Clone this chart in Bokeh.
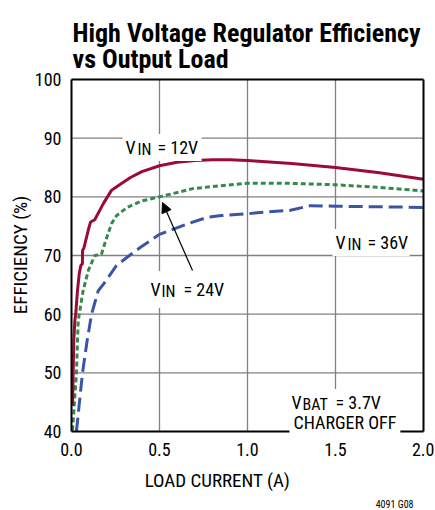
from bokeh.plotting import figure
from bokeh.models import (Range1d, FixedTicker, Label, Arrow, NormalHead,
                          ColumnDataSource, NumeralTickFormatter)
from bokeh.embed import file_html
from bokeh.resources import INLINE

# ---------------- data ----------------
x_ticks = [0.0, 0.5, 1.0, 1.5, 2.0]
y_ticks = [40, 50, 60, 70, 80, 90, 100]

x_12v = [0.006, 0.013, 0.019, 0.024, 0.034, 0.044, 0.053, 0.062, 0.063, 0.07,
         0.095, 0.108, 0.132, 0.18, 0.227, 0.25, 0.335, 0.4, 0.5, 0.6, 0.7,
         0.8, 0.9, 1.0, 1.25, 1.5, 1.75, 2.0]
y_12v = [44.4, 55.5, 58.9, 60.0, 64.0, 66.9, 68.3, 68.6, 70.9, 71.2,
         74.3, 75.7, 76.1, 78.8, 81.1, 81.6, 83.3, 84.3, 85.3, 85.9, 86.2,
         86.3, 86.3, 86.2, 85.7, 85.0, 84.1, 83.0]

x_24v = [0.006, 0.028, 0.038, 0.044, 0.066, 0.095, 0.132, 0.17, 0.195, 0.227,
         0.256, 0.316, 0.4, 0.5, 0.69, 0.85, 1.0, 1.25, 1.5, 1.75, 2.0]
y_24v = [40.2, 50.0, 58.9, 60.0, 64.0, 67.4, 70.0, 70.2, 72.6, 75.4,
         76.8, 78.2, 79.3, 80.0, 81.4, 81.9, 82.3, 82.3, 82.05, 81.6, 81.0]

x_36v = [0.028, 0.0625, 0.089, 0.108, 0.114, 0.152, 0.184, 0.256, 0.316, 0.392,
         0.5, 0.58, 0.66, 0.77, 0.85, 1.0, 1.055, 1.244, 1.358, 1.5, 1.75, 2.0]
y_36v = [40.0, 50.0, 55.5, 58.9, 60.0, 64.0, 65.2, 68.3, 69.7, 71.4,
         73.6, 74.5, 75.4, 76.5, 76.8, 77.1, 77.3, 77.7, 78.5, 78.4, 78.3, 78.2]

title_lines = ["High Voltage Regulator Efficiency", "vs Output Load"]
x_label = "LOAD CURRENT (A)"
y_label = "EFFICIENCY (%)"
footer = "4091 G08"

FONT = "Roboto Condensed"
RED = "#9b0b38"
GREEN = "#35894b"
BLUE = "#3b55a6"
GRID = "#808080"

W, H = 434, 509          # canvas starts at the page's top-left corner

# picture pixel -> data helpers (plot box: x 71..423, y 79..431)
def X(px):
    return (px - 71) / 176.0

def Y(py):
    return 100 - (py - 79) * 60.0 / 352.0

x0, x1 = x_ticks[0], x_ticks[-1]
y0, y1 = y_ticks[0], y_ticks[-1]

# the frame fills the whole canvas; the chart box is drawn inside it
p = figure(width=W, height=H, output_backend="svg", toolbar_location=None,
           x_range=Range1d(X(0), X(W)), y_range=Range1d(Y(H), Y(0)),
           min_border=0, min_border_left=0, min_border_right=0,
           min_border_top=0, min_border_bottom=0)
p.background_fill_color = "white"
p.border_fill_color = "white"
p.outline_line_color = None
p.xgrid.visible = False
p.ygrid.visible = False

p.xaxis.ticker = FixedTicker(ticks=x_ticks)
p.yaxis.ticker = FixedTicker(ticks=y_ticks)
p.xaxis.formatter = NumeralTickFormatter(format="0.0")
p.xaxis.fixed_location = y0
p.yaxis.fixed_location = x0
for ax in (p.xaxis, p.yaxis):
    ax.axis_line_color = None
    ax.major_tick_line_color = None
    ax.minor_tick_line_color = None
    ax.major_tick_out = 0
    ax.major_tick_in = 0
    ax.major_label_text_font = FONT
    ax.major_label_text_font_size = "18px"
    ax.major_label_text_color = "black"
    ax.axis_label_text_font = FONT
    ax.axis_label_text_font_size = "19px"
    ax.axis_label_text_font_style = "normal"
    ax.axis_label_text_color = "black"
p.xaxis.axis_label = x_label
p.yaxis.axis_label = y_label
p.xaxis.major_label_standoff = 11
p.yaxis.major_label_standoff = 10
p.xaxis.axis_label_standoff = 10
p.yaxis.axis_label_standoff = 0

# grid lines (inner ticks only)
gx = x_ticks[1:-1]
gy = y_ticks[1:-1]
p.segment(x0=gx, y0=[y0] * len(gx), x1=gx, y1=[y1] * len(gx),
          line_color=GRID, line_width=1.3)
p.segment(x0=[x0] * len(gy), y0=gy, x1=[x1] * len(gy), y1=gy,
          line_color=GRID, line_width=1.3)

s12 = ColumnDataSource(dict(x=x_12v, y=y_12v))
s24 = ColumnDataSource(dict(x=x_24v, y=y_24v))
s36 = ColumnDataSource(dict(x=x_36v, y=y_36v))
p.line("x", "y", source=s36, line_color=BLUE, line_width=3, line_dash="14 6")
p.line("x", "y", source=s24, line_color=GREEN, line_width=3, line_dash="5 3")
p.line("x", "y", source=s12, line_color=RED, line_width=3)

# chart box
p.segment(x0=[x0, x1, x0, x0], y0=[y0, y0, y0, y1],
          x1=[x0, x1, x1, x1], y1=[y1, y1, y0, y1],
          line_color="black", line_width=2)


def lab(text, px, py, size="18px", box=None, style="normal", align="left"):
    if box is not None:
        l, r, v = box
        px = px - l
    kw = dict(x=X(px), y=Y(py), text=text, text_font=FONT,
              text_font_size=size, text_font_style=style, text_color="black",
              text_align=align, text_baseline="alphabetic")
    if box is not None:
        kw.update(background_fill_color="white",
                  padding=dict(left=l, right=r, top=v, bottom=v))
    p.add_layout(Label(**kw))

# title
lab(title_lines[0], 72, 32, size="26px", style="bold")
lab(title_lines[1], 72, 58, size="26px", style="bold")

# VIN = 12V  (white box drawn by the first piece)
lab("V", 125, 147, box=(3, 66, 3))
lab("IN", 137, 149, size="16px")
lab("= 12V", 157, 147)

# VIN = 24V
lab("V", 150, 289, box=(3, 64, 8))
lab("IN", 161, 291, size="16px")
lab("= 24V", 183, 289)

# VIN = 36V
lab("V", 335, 242, box=(3, 64, 3))
lab("IN", 347, 244, size="16px")
lab("= 36V", 367, 242)

# VBAT = 3.7V / CHARGER OFF
lab("CHARGER OFF", 293, 422, box=(4, 4, 5))
lab("V", 291, 402, box=(3, 100, 3))
lab("BAT", 302, 404, size="16px")
lab("= 3.7V", 335, 402)

# arrow pointing to 24V curve
p.add_layout(Arrow(x_start=X(192), y_start=Y(270), x_end=X(162), y_end=Y(202),
                   line_color="black", line_width=1.2,
                   end=NormalHead(size=10, fill_color="black", line_color="black")))

# footer
lab(footer, 413, 504, size="10px", align="right")

open("out.html", "w").write(file_html(p, INLINE))
